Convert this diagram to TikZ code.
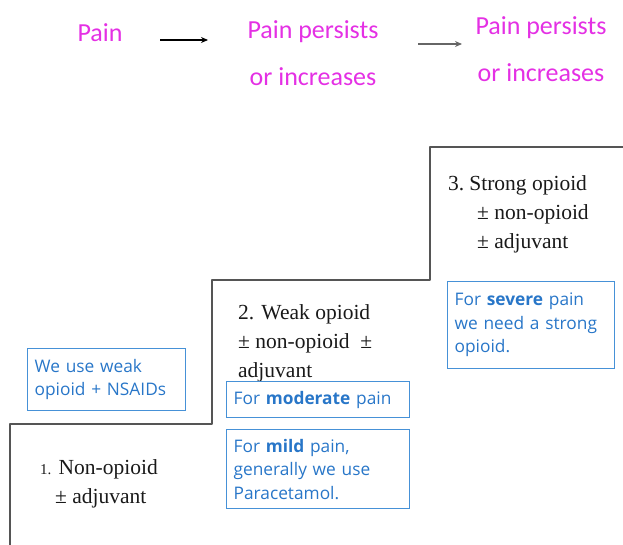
\documentclass[tikz,border=0pt]{standalone}
\usepackage{fontspec}
\setmainfont{Liberation Serif}
\newfontfamily\headfont{Carlito}
\newfontfamily\notefont{Open Sans}
\usetikzlibrary{arrows.meta,calc}
\definecolor{mag}{RGB}{228,48,228}
\definecolor{notetext}{RGB}{40,118,200}
\definecolor{noteline}{RGB}{70,145,215}
\definecolor{stairline}{RGB}{85,85,85}
\tikzset{
  head/.style={text=mag, font=\headfont\fontsize{26}{47}\selectfont, align=center, inner sep=0pt},
  flowarrow/.style={-{Stealth[length=7pt,width=6pt]}, line width=1.4pt},
  steptext/.style={font=\fontsize{21.5}{29}\selectfont, align=left, inner sep=0pt, anchor=north west, text=black!90},
  notebox/.style={draw=noteline, line width=1.3pt, text=notetext, font=\notefont\fontsize{17.3}{23.5}\selectfont,
     align=left, anchor=north west, inner xsep=7pt, inner ysep=0pt},
  stairs/.style={draw=stairline, line width=2pt, line join=round}
}
\begin{document}
\begin{tikzpicture}[x=1pt,y=-1pt]
\useasboundingbox (0,0) rectangle (623,544);
% header
\node[head] (pain) at (100,33) {Pain};
\node[head] (pp1) at (313,53) {Pain persists\\or increases};
\node[head] (pp2) at (541,49) {Pain persists\\or increases};
\coordinate (a1s) at (160,40);
\coordinate (a1e) at (208,40);
\coordinate (a2s) at (418,44);
\coordinate (a2e) at (462,44);
\draw[flowarrow, black] (a1s) -- (a1e);
\draw[flowarrow, black!60, line width=2pt] (a2s) -- (a2e);
% stairs
\coordinate (s0) at (10,546);
\coordinate (s1) at (10,424);
\coordinate (s2) at (212,424);
\coordinate (s3) at (212,280);
\coordinate (s4) at (430,280);
\coordinate (s5) at (430,147);
\coordinate (s6) at (625,147);
\draw[stairs] (s0) -- (s1) -- (s2) -- (s3) -- (s4) -- (s5) -- (s6);
% step texts
\node[steptext] (st3) at (448,175) {3.\hspace{5pt}Strong opioid\\\hspace*{29pt}\textpm\ non-opioid\\\hspace*{29pt}\textpm\ adjuvant};
\node[steptext] (st2) at (238,304) {2. Weak opioid\\\textpm\ non-opioid \ \textpm\\adjuvant};
\node[steptext] (st1) at (40,459) {{\fontsize{15}{29}\selectfont 1.} Non-opioid\\\hspace*{15pt}\textpm\ adjuvant};
% notes
\node[notebox, text width=144pt, minimum height=62pt] (n1) at (27,348) {We use weak\\opioid + NSAIDs};
\node[notebox, text width=169pt, minimum height=36pt] (n2) at (226,381) {For \textbf{moderate} pain};
\node[notebox, text width=169pt, minimum height=79pt] (n3) at (226,429) {For \textbf{mild} pain,\\generally we use\\Paracetamol.};
\node[notebox, text width=153pt, minimum height=87pt] (n4) at (447,281) {For \textbf{severe} pain\\we need a strong\\opioid.};
\end{tikzpicture}
\end{document}
